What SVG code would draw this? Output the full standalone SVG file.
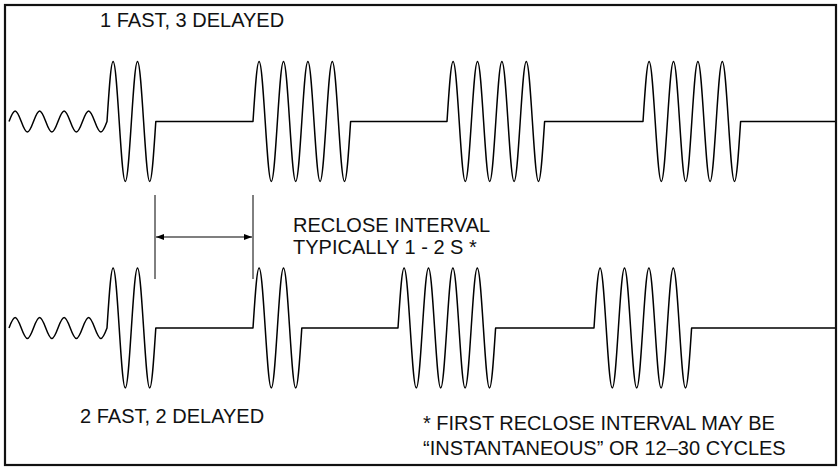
<svg xmlns="http://www.w3.org/2000/svg" width="838" height="467" viewBox="0 0 838 467">
<style>
.frame{fill:none;stroke:#111;stroke-width:2.2}
.wave{fill:none;stroke:#000;stroke-width:1.5;stroke-linejoin:round}
.ext{fill:none;stroke:#000;stroke-width:1}
.dim{fill:none;stroke:#000;stroke-width:1.2}
text{font-family:"Liberation Sans",Arial,Helvetica,sans-serif;font-size:20px;fill:#111}
</style>
<defs>
<marker id="ah" viewBox="0 0 8 6" refX="8" refY="3" markerWidth="8" markerHeight="6" orient="auto-start-reverse" markerUnits="userSpaceOnUse">
<path d="M0,0 L8,3 L0,6 Z" fill="#000"/>
</marker>
</defs>
<rect class="frame" x="5" y="5" width="831" height="460"/>
<g id="waveform-top">
<path class="wave" d="M 9,121.5
c 2,-5.38 3.91,-10.5 6.125,-10.5 s 4.125,5.12 6.125,10.5 s 3.91,10.5 6.125,10.5 s 4.125,-5.12 6.125,-10.5
s 3.91,-10.5 6.125,-10.5 s 4.125,5.12 6.125,10.5 s 3.91,10.5 6.125,10.5 s 4.125,-5.12 6.125,-10.5
s 3.91,-10.5 6.125,-10.5 s 4.125,5.12 6.125,10.5 s 3.91,10.5 6.125,10.5 s 4.125,-5.12 6.125,-10.5
s 3.91,-10.5 6.125,-10.5 s 4.125,5.12 6.125,10.5 s 3.91,10.5 6.125,10.5 s 4.125,-5.12 6.125,-10.5
c 1.99,-30.75 3.89,-60 6.1,-60 s 4.11,29.25 6.1,60 s 3.89,60 6.1,60 s 4.11,-29.25 6.1,-60
s 3.89,-60 6.1,-60 s 4.11,29.25 6.1,60 s 3.89,60 6.1,60 s 4.11,-29.25 6.1,-60
H 253
c 1.99,-30.75 3.89,-60 6.1,-60 s 4.11,29.25 6.1,60 s 3.89,60 6.1,60 s 4.11,-29.25 6.1,-60
s 3.89,-60 6.1,-60 s 4.11,29.25 6.1,60 s 3.89,60 6.1,60 s 4.11,-29.25 6.1,-60
s 3.89,-60 6.1,-60 s 4.11,29.25 6.1,60 s 3.89,60 6.1,60 s 4.11,-29.25 6.1,-60
s 3.89,-60 6.1,-60 s 4.11,29.25 6.1,60 s 3.89,60 6.1,60 s 4.11,-29.25 6.1,-60
H 447
c 1.99,-30.75 3.89,-60 6.1,-60 s 4.11,29.25 6.1,60 s 3.89,60 6.1,60 s 4.11,-29.25 6.1,-60
s 3.89,-60 6.1,-60 s 4.11,29.25 6.1,60 s 3.89,60 6.1,60 s 4.11,-29.25 6.1,-60
s 3.89,-60 6.1,-60 s 4.11,29.25 6.1,60 s 3.89,60 6.1,60 s 4.11,-29.25 6.1,-60
s 3.89,-60 6.1,-60 s 4.11,29.25 6.1,60 s 3.89,60 6.1,60 s 4.11,-29.25 6.1,-60
H 643
c 1.99,-30.75 3.89,-60 6.1,-60 s 4.11,29.25 6.1,60 s 3.89,60 6.1,60 s 4.11,-29.25 6.1,-60
s 3.89,-60 6.1,-60 s 4.11,29.25 6.1,60 s 3.89,60 6.1,60 s 4.11,-29.25 6.1,-60
s 3.89,-60 6.1,-60 s 4.11,29.25 6.1,60 s 3.89,60 6.1,60 s 4.11,-29.25 6.1,-60
s 3.89,-60 6.1,-60 s 4.11,29.25 6.1,60 s 3.89,60 6.1,60 s 4.11,-29.25 6.1,-60
H 835"/>
</g>
<g id="waveform-bottom">
<path class="wave" d="M 9,328
c 2,-5.38 3.91,-10.5 6.125,-10.5 s 4.125,5.12 6.125,10.5 s 3.91,10.5 6.125,10.5 s 4.125,-5.12 6.125,-10.5
s 3.91,-10.5 6.125,-10.5 s 4.125,5.12 6.125,10.5 s 3.91,10.5 6.125,10.5 s 4.125,-5.12 6.125,-10.5
s 3.91,-10.5 6.125,-10.5 s 4.125,5.12 6.125,10.5 s 3.91,10.5 6.125,10.5 s 4.125,-5.12 6.125,-10.5
s 3.91,-10.5 6.125,-10.5 s 4.125,5.12 6.125,10.5 s 3.91,10.5 6.125,10.5 s 4.125,-5.12 6.125,-10.5
c 1.99,-30.75 3.89,-60 6.1,-60 s 4.11,29.25 6.1,60 s 3.89,60 6.1,60 s 4.11,-29.25 6.1,-60
s 3.89,-60 6.1,-60 s 4.11,29.25 6.1,60 s 3.89,60 6.1,60 s 4.11,-29.25 6.1,-60
H 253
c 1.99,-30.75 3.89,-60 6.1,-60 s 4.11,29.25 6.1,60 s 3.89,60 6.1,60 s 4.11,-29.25 6.1,-60
s 3.89,-60 6.1,-60 s 4.11,29.25 6.1,60 s 3.89,60 6.1,60 s 4.11,-29.25 6.1,-60
H 398
c 1.99,-30.75 3.89,-60 6.1,-60 s 4.11,29.25 6.1,60 s 3.89,60 6.1,60 s 4.11,-29.25 6.1,-60
s 3.89,-60 6.1,-60 s 4.11,29.25 6.1,60 s 3.89,60 6.1,60 s 4.11,-29.25 6.1,-60
s 3.89,-60 6.1,-60 s 4.11,29.25 6.1,60 s 3.89,60 6.1,60 s 4.11,-29.25 6.1,-60
s 3.89,-60 6.1,-60 s 4.11,29.25 6.1,60 s 3.89,60 6.1,60 s 4.11,-29.25 6.1,-60
H 594
c 1.99,-30.75 3.89,-60 6.1,-60 s 4.11,29.25 6.1,60 s 3.89,60 6.1,60 s 4.11,-29.25 6.1,-60
s 3.89,-60 6.1,-60 s 4.11,29.25 6.1,60 s 3.89,60 6.1,60 s 4.11,-29.25 6.1,-60
s 3.89,-60 6.1,-60 s 4.11,29.25 6.1,60 s 3.89,60 6.1,60 s 4.11,-29.25 6.1,-60
s 3.89,-60 6.1,-60 s 4.11,29.25 6.1,60 s 3.89,60 6.1,60 s 4.11,-29.25 6.1,-60
H 835"/>
</g>
<g id="reclose-interval">
<line class="ext" x1="155" y1="195" x2="155" y2="279"/>
<line class="ext" x1="253" y1="195" x2="253" y2="279"/>
<line class="dim" x1="156" y1="237" x2="252" y2="237" marker-start="url(#ah)" marker-end="url(#ah)"/>
</g>
<g id="labels">
<text x="100" y="27">1 FAST, 3 DELAYED</text>
<text x="293" y="232">RECLOSE INTERVAL</text>
<text x="293" y="254">TYPICALLY 1 - 2 S *</text>
<text x="80" y="423">2 FAST, 2 DELAYED</text>
<text x="423" y="430">* FIRST RECLOSE INTERVAL MAY BE</text>
<text x="423" y="455">“INSTANTANEOUS” OR 12–30 CYCLES</text>
</g>
</svg>
